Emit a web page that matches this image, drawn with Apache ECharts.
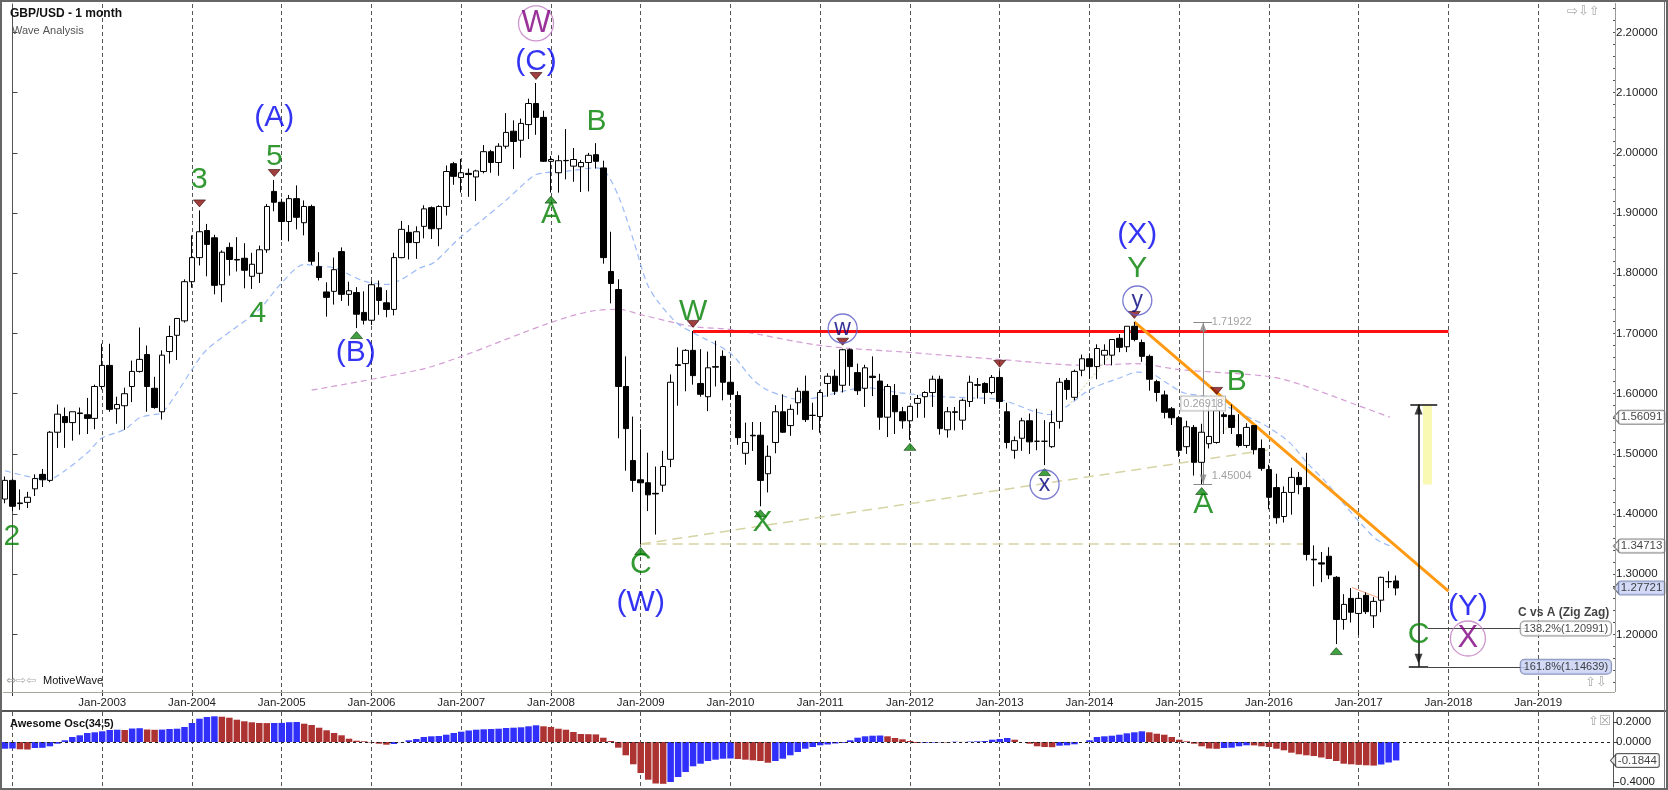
<!DOCTYPE html>
<html>
<head>
<meta charset="utf-8">
<script src="https://cdn.jsdelivr.net/npm/echarts@6.0.0/dist/echarts.min.js"></script>
<style>
html,body{margin:0;padding:0;background:#fff;}
#chart{width:1668px;height:790px;}
</style>
</head>
<body>
<div id="chart"></div>
<script>
// ---------------- DATA ----------------
// Monthly candles GBP/USD, Dec-2001 .. Jun-2017 : [open, high, low, close]
const ohlc = [
[1.4250,1.4625,1.4180,1.4560],
// 2002
[1.4560,1.4590,1.4050,1.4130],[1.4175,1.4410,1.4070,1.4185],[1.4195,1.4370,1.4100,1.4280],[1.4420,1.4660,1.4300,1.4590],
[1.4660,1.4750,1.4450,1.4570],[1.4560,1.5380,1.4530,1.5360],[1.5360,1.5820,1.5100,1.5660],[1.5620,1.5770,1.5100,1.5520],
[1.5520,1.5700,1.5220,1.5700],[1.5680,1.5770,1.5320,1.5670],[1.5650,1.5930,1.5330,1.5590],[1.5590,1.6150,1.5410,1.6120],
// 2003
[1.6120,1.6830,1.6070,1.6470],[1.6470,1.6830,1.5700,1.5740],[1.5750,1.5950,1.5500,1.5820],[1.5800,1.6100,1.5400,1.6000],
[1.6120,1.6550,1.5860,1.6370],[1.6370,1.7100,1.6350,1.6570],[1.6650,1.6800,1.5700,1.6120],[1.6090,1.6280,1.5750,1.5770],
[1.5700,1.6720,1.5570,1.6640],[1.6700,1.7130,1.6500,1.6950],[1.6970,1.7250,1.6560,1.7250],[1.7210,1.7900,1.7180,1.7860],
// 2004
[1.7860,1.8630,1.7760,1.8260],[1.8260,1.9045,1.8130,1.8690],[1.8710,1.8820,1.7950,1.8480],[1.8590,1.8640,1.7650,1.7800],
[1.7810,1.8380,1.7520,1.8350],[1.8430,1.8510,1.7960,1.8230],[1.8230,1.8600,1.8030,1.8220],[1.8250,1.8500,1.7750,1.8050],
[1.7950,1.8340,1.7740,1.8150],[1.8000,1.8460,1.7840,1.8390],[1.8390,1.9150,1.8340,1.9110],[1.9360,1.9550,1.9030,1.9180],
// 2005
[1.9180,1.9240,1.8550,1.8860],[1.8860,1.9300,1.8530,1.9240],[1.9240,1.9460,1.8730,1.8930],[1.8840,1.9210,1.8630,1.9110],
[1.9110,1.9140,1.8140,1.8200],[1.8110,1.8350,1.7880,1.7930],[1.7690,1.7850,1.7280,1.7600],[1.7700,1.8260,1.7480,1.8060],
[1.8360,1.8430,1.7540,1.7650],[1.7650,1.7860,1.7460,1.7710],[1.7680,1.7770,1.7090,1.7320],[1.7350,1.7700,1.7150,1.7220],
// 2006
[1.7220,1.7870,1.7140,1.7810],[1.7760,1.7880,1.7310,1.7550],[1.7510,1.7720,1.7270,1.7400],[1.7400,1.8340,1.7300,1.8260],
[1.8260,1.8870,1.8250,1.8730],[1.8680,1.8800,1.8230,1.8510],[1.8510,1.8780,1.8240,1.8690],[1.8780,1.9130,1.8580,1.9070],
[1.9090,1.9110,1.8570,1.8740],[1.8740,1.9130,1.8450,1.9110],[1.9110,1.9790,1.8960,1.9690],[1.9820,1.9850,1.9470,1.9610],
// 2007
[1.9590,1.9900,1.9340,1.9670],[1.9660,1.9740,1.9270,1.9640],[1.9600,1.9720,1.9200,1.9700],[1.9690,2.0130,1.9660,2.0020],
[2.0020,2.0050,1.9670,1.9840],[1.9840,2.0160,1.9620,2.0110],[2.0110,2.0660,2.0070,2.0340],[2.0360,2.0540,1.9730,2.0190],
[2.0210,2.0570,1.9920,2.0490],[2.0470,2.0900,2.0230,2.0820],[2.0820,2.1161,2.0300,2.0590],[2.0590,2.0700,1.9850,1.9860],
// 2008
[1.9860,1.9950,1.9340,1.9890],[1.9670,1.9960,1.9340,1.9870],[1.9870,2.0396,1.9560,1.9875],[1.9780,2.0080,1.9520,1.9890],
[1.9770,1.9880,1.9350,1.9840],[1.9840,2.0000,1.9360,1.9960],[1.9970,2.0162,1.9740,1.9860],[1.9750,1.9870,1.8160,1.8260],
[1.8030,1.8690,1.7500,1.7830],[1.7730,1.7900,1.5260,1.6120],[1.6120,1.6620,1.4720,1.5420],[1.4890,1.5620,1.4370,1.4560],
// 2009
[1.4570,1.5410,1.3503,1.4520],[1.4520,1.5020,1.4050,1.4320],[1.4345,1.4790,1.3660,1.4335],[1.4480,1.5050,1.4370,1.4790],
[1.4910,1.6320,1.4780,1.6190],[1.6480,1.6770,1.5800,1.6470],[1.6500,1.6740,1.6040,1.6720],[1.6720,1.7043,1.6150,1.6300],
[1.6170,1.6740,1.5950,1.5990],[1.5950,1.6700,1.5710,1.6430],[1.6440,1.6880,1.6120,1.6450],[1.6620,1.6720,1.5890,1.6190],
// 2010
[1.6190,1.6460,1.5900,1.5990],[1.5970,1.6040,1.5150,1.5270],[1.5010,1.5520,1.4820,1.5190],[1.5310,1.5530,1.5050,1.5300],
[1.5310,1.5530,1.4130,1.4560],[1.4670,1.5140,1.4360,1.4960],[1.5190,1.5810,1.5010,1.5700],[1.5700,1.5990,1.5350,1.5360],
[1.5470,1.5820,1.5300,1.5740],[1.5850,1.6100,1.5650,1.6040],[1.6040,1.6300,1.5530,1.5570],[1.5640,1.5850,1.5400,1.5640],
// 2011
[1.5620,1.6060,1.5350,1.6020],[1.6170,1.6340,1.5950,1.6290],[1.6290,1.6400,1.5980,1.6040],[1.6140,1.6747,1.6020,1.6730],
[1.6730,1.6750,1.6130,1.6450],[1.6350,1.6500,1.5980,1.6050],[1.6090,1.6480,1.5780,1.6430],[1.6290,1.6620,1.5960,1.6270],
[1.6210,1.6330,1.5400,1.5610],[1.5610,1.6160,1.5280,1.6120],[1.5970,1.6160,1.5330,1.5700],[1.5700,1.5780,1.5420,1.5550],
// 2012
[1.5550,1.5800,1.5233,1.5790],[1.5840,1.5980,1.5600,1.5920],[1.5950,1.6040,1.5600,1.6020],[1.6020,1.6300,1.5780,1.6240],
[1.6240,1.6300,1.5320,1.5420],[1.5400,1.5780,1.5270,1.5700],[1.5700,1.5780,1.5390,1.5690],[1.5560,1.5920,1.5400,1.5890],
[1.5870,1.6300,1.5780,1.6190],[1.6150,1.6260,1.5920,1.6140],[1.6170,1.6190,1.5830,1.6020],[1.6020,1.6310,1.5990,1.6270],
// 2013
[1.6270,1.6381,1.5750,1.5870],[1.5700,1.5850,1.5090,1.5190],[1.5060,1.5290,1.4920,1.5220],[1.5260,1.5600,1.5050,1.5550],
[1.5550,1.5670,1.5000,1.5200],[1.5210,1.5750,1.5060,1.5210],[1.5210,1.5560,1.4814,1.5210],[1.5120,1.5720,1.5100,1.5520],
[1.5540,1.6260,1.5420,1.6190],[1.6220,1.6260,1.5900,1.6070],[1.5940,1.6400,1.5890,1.6370],[1.6390,1.6650,1.6290,1.6580],
// 2014
[1.6580,1.6670,1.6250,1.6450],[1.6450,1.6820,1.6240,1.6750],[1.6640,1.6820,1.6480,1.6720],[1.6640,1.6900,1.6470,1.6900],
[1.6920,1.6990,1.6690,1.6770],[1.6780,1.7120,1.6690,1.7120],[1.7120,1.7192,1.6870,1.6900],[1.6850,1.6900,1.6530,1.6620],
[1.6620,1.6650,1.6050,1.6240],[1.6200,1.6230,1.5870,1.6020],[1.5980,1.6050,1.5590,1.5690],[1.5750,1.5780,1.5480,1.5600],
// 2015
[1.5600,1.5630,1.4950,1.5060],[1.5120,1.5550,1.5000,1.5450],[1.5440,1.5480,1.4640,1.4860],[1.4860,1.5500,1.4500,1.5360],
[1.5170,1.5820,1.5090,1.5290],[1.5190,1.5930,1.5170,1.5720],[1.5650,1.5690,1.5330,1.5620],[1.5640,1.5820,1.5330,1.5440],
[1.5320,1.5660,1.5110,1.5140],[1.5140,1.5510,1.5100,1.5440],[1.5470,1.5480,1.4990,1.5070],[1.5090,1.5240,1.4720,1.4760],
// 2016
[1.4740,1.4820,1.4080,1.4280],[1.4440,1.4670,1.3840,1.3940],[1.3960,1.4460,1.3860,1.4360],[1.4360,1.4770,1.3990,1.4610],
[1.4610,1.4700,1.4330,1.4490],[1.4440,1.5018,1.3229,1.3330],[1.3250,1.3480,1.2800,1.3240],[1.3190,1.3370,1.2870,1.3170],
[1.3300,1.3450,1.2920,1.2990],[1.2950,1.2970,1.1841,1.2250],[1.2250,1.2670,1.2080,1.2500],[1.2600,1.2770,1.2200,1.2370],
// 2017
[1.2350,1.2700,1.1990,1.2600],[1.2650,1.2700,1.2340,1.2380],[1.2310,1.2620,1.2110,1.2550],[1.2570,1.2960,1.2370,1.2950],
[1.2880,1.3050,1.2770,1.2875],[1.2890,1.2980,1.2650,1.27721]
];

// Awesome Oscillator (34,5), Dec-2001 .. Jun-2017
const aoValues = [
-0.067,-0.065,-0.073,-0.075,-0.060,-0.058,-0.043,-0.017,0.017,0.050,0.067,0.090,0.097,
0.107,0.120,0.123,0.120,0.135,0.138,0.125,0.122,0.124,0.130,0.133,0.150,
0.190,0.233,0.250,0.257,0.253,0.243,0.223,0.207,0.197,0.190,0.189,0.190,
0.191,0.198,0.200,0.183,0.170,0.143,0.117,0.090,0.067,0.033,0.013,0.007,
-0.005,-0.017,-0.027,-0.020,-0.002,0.017,0.030,0.050,0.057,0.060,0.073,0.090,
0.103,0.115,0.123,0.127,0.130,0.133,0.140,0.143,0.147,0.157,0.167,0.157,
0.150,0.133,0.123,0.100,0.080,0.078,0.076,0.043,0.010,-0.057,-0.133,-0.223,
-0.310,-0.377,-0.415,-0.418,-0.400,-0.350,-0.300,-0.243,-0.217,-0.190,-0.177,-0.167,
-0.165,-0.170,-0.177,-0.183,-0.190,-0.207,-0.190,-0.167,-0.133,-0.100,-0.067,-0.050,
-0.033,-0.025,-0.015,-0.008,0.017,0.043,0.057,0.063,0.065,0.057,0.040,0.027,
0.010,-0.010,-0.008,-0.006,-0.003,-0.005,0.003,0.001,0.004,0.007,0.010,0.023,
0.030,0.040,0.023,0.000,-0.017,-0.043,-0.050,-0.052,-0.037,-0.033,-0.023,0.000,
0.017,0.050,0.057,0.063,0.073,0.087,0.097,0.107,0.097,0.083,0.073,0.050,
0.023,0.007,-0.017,-0.043,-0.065,-0.068,-0.060,-0.057,-0.043,-0.033,-0.034,-0.043,
-0.050,-0.067,-0.083,-0.107,-0.123,-0.133,-0.140,-0.155,-0.170,-0.190,-0.217,-0.223,
-0.228,-0.233,-0.236,-0.225,-0.205,-0.1844
];

// moving averages: [month index (0 = Jan-2002), price]
const fastMA = [
[-1,1.472],[3,1.460],[5,1.4586],[7,1.472],[10,1.5018],[12,1.5267],[15,1.5405],[17,1.560],[19,1.5654],[20,1.5683],
[22,1.6015],[24,1.6402],[26,1.6734],[29.5,1.7067],[33,1.7399],[36,1.7842],[39,1.8146],[41,1.8118],[43,1.8091],[45,1.798],
[47,1.7869],[50,1.7814],[52,1.7897],[54.5,1.809],[56.3,1.8174],[59.8,1.859],[62.9,1.8894],[66.1,1.9226],[69.6,1.9613],
[71,1.9669],[74.1,1.9696],[78.1,1.9752],[79.4,1.9669],[81.2,1.9226],[83,1.8561],[84.8,1.7842],[86.1,1.7565],[88.8,1.7178],
[91,1.7012],[95.9,1.668],[99,1.6236],[100.8,1.607],[103.1,1.5959],[105.3,1.5904],[108,1.5945],[112,1.607],[114.2,1.6098],
[118.7,1.6015],[123.1,1.5959],[127.6,1.5932],[132,1.5904],[136.5,1.5709],[138.7,1.5654],[141,1.5792],[144.1,1.607],
[148.1,1.6264],[150.4,1.6357],[152.5,1.6319],[154.3,1.6181],[156.6,1.6015],[159.7,1.5945],[163.2,1.5738],[165.9,1.5571],
[167.7,1.546],[170.8,1.5184],[173.1,1.4852],[175.7,1.452],[177.9,1.4188],[180.2,1.3855],[182.4,1.3578],[184.2,1.34713]
];
const slowMA = [
[40,1.6058],[54.5,1.640],[60,1.6618],[72,1.7183],[77.9,1.7382],[81.2,1.740],[83.9,1.7316],[91,1.7116],[96.1,1.7066],
[108.1,1.680],[120,1.6684],[132,1.6568],[144,1.6468],[150,1.650],[156.1,1.640],[168,1.6286],[172.2,1.6153],[180,1.580],[184.2,1.56091]
];

// pivot markers [month index, price]
const pivotHighs = [[25,1.9045],[35,1.9550],[70,2.1161],[91,1.7043],[111,1.6747],[132,1.6381],[150,1.7192],[161,1.5930]];
const pivotLows  = [[46,1.7090],[72,1.9340],[84,1.3503],[100,1.4130],[120,1.5233],[138,1.4814],[159,1.4500],[177,1.1841]];

// wave labels: [text, month index, price, degree]
const waveLabels = [
['2',-0.1,1.3628,'minor'],['3',25,1.9558,'minor'],['4',32.8,1.7332,'minor'],['5',35,1.994,'minor'],
['(A)',35,2.0588,'inter'],['(B)',45.9,1.6684,'inter'],['(C)',70,2.1518,'inter'],
['A',72,1.8977,'minor'],['B',78.1,2.0522,'minor'],['W',91,1.7365,'minor'],['C',84,1.3163,'minor'],
['(W)',84,1.2532,'inter'],['X',100.3,1.386,'minor'],['(X)',150.4,1.8645,'inter'],['Y',150.4,1.808,'minor'],
['A',159.2,1.416,'minor'],['B',163.7,1.6203,'minor'],['C',188,1.200,'minor'],['(Y)',194.6,1.2465,'inter'],
['W',70,2.215,'primary'],['X',194.6,1.1934,'primary'],
['w',111,1.7083,'sub'],['x',138,1.4492,'sub'],['y',150.4,1.7548,'sub']
];

// drawn lines: [kind, k1, p1, k2, p2]
const drawnLines = [
['resistance',91,1.7043,192,1.7043],
['trend',150,1.7192,192,1.272],
['channel',84,1.3503,173.5,1.3503],
['channel',84,1.3503,168.2,1.5073],
['dotted',141.5,1.585,150,1.712],
['dotted',159.7,1.5156,163.7,1.557],
['salmon',179.1,1.278,183.5,1.257],
['measure',159.2,1.71922,159.2,1.45004],
['measure',157.9,1.71922,160.4,1.71922],
['measure',157.9,1.45004,160.4,1.45004],
['projection',188,1.582,188,1.14639],
['projection',186.9,1.582,190.5,1.582],
['projection',186.7,1.14639,189.3,1.14639],
['fib',189.2,1.20991,202.5,1.20991],
['fib',189.3,1.14639,202.5,1.14639]
];
const targetZone = [188.6,1.5804,189.8,1.4492];

// boxed/plain notes: [text, month index, price, kind]
const notes = [
['C vs A (Zig Zag)',207.4,1.2366,'heading'],
['138.2%(1.20991)',207.7,1.20991,'fibBox'],
['161.8%(1.14639)',207.7,1.14639,'fibBoxBlue'],
['0.26918',159.2,1.5837,'measureBox'],
['1.71922',160.3,1.71922,'measureText'],
['1.45004',160.3,1.4641,'measureText']
];
const priceTags = [[1.56091,'plain'],[1.34713,'plain'],[1.27721,'last']];
const aoTag = -0.1844;
const priceTicks = [1.2,1.3,1.4,1.5,1.6,1.7,1.8,1.9,2.0,2.1,2.2];
const aoTicks = [-0.4,0,0.2];
const MONTH_NAMES = ['Jan','Feb','Mar','Apr','May','Jun','Jul','Aug','Sep','Oct','Nov','Dec'];

// ---------------- CHART ----------------
const FONT = 'Liberation Sans, Arial, sans-serif';
const months = [];
for (let i = 0; i < 216; i++) {
  const k = i - 1;
  const y = 2002 + Math.floor(k / 12);
  const m = ((k % 12) + 12) % 12;
  months.push(MONTH_NAMES[m] + '-' + y);
}
const isJan = idx => months[idx] && months[idx].startsWith('Jan');
const showYear = idx => isJan(idx) && +months[idx].slice(4) >= 2003;

const minorTicks = [];
for (let v = 112; v <= 224; v += 2) minorTicks.push(v / 100);

const candleData = ohlc.map(r => [r[0], r[3], r[2], r[1]]);
const BLUE = '#3030fa', RED = '#ad3232';
const aoData = aoValues.map((v, i) => ({ value: v, itemStyle: { color: (i === 0 || v >= aoValues[i - 1]) ? BLUE : RED } }));

const lineStyles = {
  resistance: { color: '#ff1010', width: 3 },
  trend: { color: '#ff9a12', width: 3 },
  channel: { color: '#d7d4a4', width: 1.5, type: [10, 6] },
  dotted: { color: '#cdca96', width: 1, type: [2, 2] },
  salmon: { color: '#f3a283', width: 1 },
  measure: { color: '#8a8a8a', width: 1 },
  projection: { color: '#111', width: 1.5 },
  fib: { color: '#444', width: 1 }
};
const labelStyles = {
  minor: { color: '#008000', size: 30 },
  inter: { color: '#0000f0', size: 30 },
  primary: { color: '#800080', size: 31, circle: 35, ring: '#c27ac2' },
  sub: { color: '#000080', size: 23, circle: 29, ring: '#5a5ac8' }
};
const noteStyles = {
  heading: { color: '#111', fontSize: 12, fontWeight: 'bold' },
  fibBox: { color: '#111', fontSize: 11, backgroundColor: '#fff', borderColor: '#777', borderWidth: 1, borderRadius: 4, padding: [2, 3, 1, 3] },
  fibBoxBlue: { color: '#111', fontSize: 11, backgroundColor: '#c7d1f4', borderColor: '#6d78a8', borderWidth: 1, borderRadius: 4, padding: [2, 3, 1, 3] },
  measureBox: { color: '#888', fontSize: 11, backgroundColor: '#fff', borderColor: '#aaa', borderWidth: 1, padding: [2, 2, 1, 2] },
  measureText: { color: '#8a8a8a', fontSize: 11, align: 'left' }
};

const textItems = waveLabels.map(([t, k, p, deg]) => {
  const s = labelStyles[deg];
  return {
    value: [k, p],
    symbol: 'circle',
    symbolSize: s.circle || 1,
    itemStyle: s.circle ? { color: 'rgba(255,255,255,0)', borderColor: s.ring, borderWidth: 1.3 } : { color: 'rgba(0,0,0,0)' },
    label: { show: true, position: 'inside', formatter: t, color: s.color, fontSize: s.size, fontFamily: FONT }
  };
});
const noteItems = notes.map(([t, k, p, kind]) => {
  const s = noteStyles[kind];
  const lab = Object.assign({ show: true, formatter: t, fontFamily: FONT }, s);
  if (s.align === 'left') { lab.position = 'right'; lab.distance = 0; delete lab.align; }
  else lab.position = 'inside';
  return { value: [k, p], symbolSize: 1, itemStyle: { color: 'rgba(0,0,0,0)' }, label: lab };
});
const tagItems = priceTags.map(([v, kind]) => ({
  value: [214.4, v],
  symbol: 'triangle', symbolRotate: 90, symbolSize: [11, 5],
  itemStyle: { color: kind === 'last' ? '#c7d1f4' : '#fff', borderColor: '#555', borderWidth: 1 },
  label: {
    show: true, position: 'right', distance: 0, formatter: v.toFixed(5), fontFamily: FONT, fontSize: 11.5, color: '#111',
    backgroundColor: kind === 'last' ? '#c7d1f4' : '#fff', borderColor: kind === 'last' ? '#6d78a8' : '#666', borderWidth: 1,
    borderRadius: 2, padding: [1, 2, 0, 2]
  }
}));

const option = {
  animation: false,
  backgroundColor: '#fff',
  grid: [
    { left: 5, right: 55, top: 4, bottom: 98, show: false },
    { left: 5, right: 55, top: 712, bottom: 3, show: false }
  ],
  xAxis: [
    { type: 'category', gridIndex: 0, data: months, boundaryGap: false,
      axisLine: { show: false },
      axisTick: { show: true, interval: (i) => isJan(i), length: 4, lineStyle: { color: '#333' } },
      axisLabel: { interval: (i) => showYear(i), margin: 5, fontFamily: FONT, fontSize: 11.5, color: '#222' },
      splitLine: { show: true, interval: (i) => isJan(i), lineStyle: { color: '#555', type: [4, 3], width: 1 } } },
    { type: 'value', gridIndex: 0, min: -1, max: 214, show: false },
    { type: 'category', gridIndex: 1, data: months, boundaryGap: false,
      axisLine: { show: false }, axisTick: { show: false }, axisLabel: { show: false },
      splitLine: { show: true, interval: (i) => isJan(i), lineStyle: { color: '#555', type: [4, 3], width: 1 } } }
  ],
  yAxis: [
    { type: 'value', gridIndex: 0, position: 'right', min: 1.1045, max: 2.2473, scale: true,
      axisLine: { show: true, lineStyle: { color: '#555' } },
      axisTick: { show: true, customValues: priceTicks, length: 5, lineStyle: { color: '#444' } },
      axisLabel: { customValues: priceTicks, formatter: v => v.toFixed(5), margin: 3, fontFamily: FONT, fontSize: 11.5, color: '#222' },
      splitLine: { show: false } },
    { type: 'value', gridIndex: 0, position: 'right', min: 1.1045, max: 2.2473, scale: true,
      axisLine: { show: false },
      axisTick: { show: true, customValues: minorTicks, length: 3, lineStyle: { color: '#555' } },
      axisLabel: { show: false }, splitLine: { show: false } },
    { type: 'value', gridIndex: 1, position: 'right', min: -0.45, max: 0.30, scale: true,
      axisLine: { show: true, lineStyle: { color: '#555' } },
      axisTick: { show: true, customValues: aoTicks, length: 5, lineStyle: { color: '#444' } },
      axisLabel: { customValues: aoTicks, formatter: v => v.toFixed(4), margin: 3, fontFamily: FONT, fontSize: 11.5, color: '#222' },
      splitLine: { show: false } }
  ],
  series: [
    { type: 'line', xAxisIndex: 1, yAxisIndex: 0, data: slowMA, smooth: 0.3, symbol: 'none', silent: true, z: 2,
      lineStyle: { color: '#d49cd4', width: 1.2, type: [6, 4] } },
    { type: 'line', xAxisIndex: 1, yAxisIndex: 0, data: fastMA, smooth: 0.3, symbol: 'none', silent: true, z: 2,
      lineStyle: { color: '#9cbaf6', width: 1.2, type: [6, 4] },
      markArea: { silent: true, itemStyle: { color: '#f9f9b3' },
        data: [[{ coord: [targetZone[0], targetZone[1]] }, { coord: [targetZone[2], targetZone[3]] }]] } },
    { type: 'lines', coordinateSystem: 'cartesian2d', xAxisIndex: 1, yAxisIndex: 0, silent: true, z: 3, polyline: false,
      data: drawnLines.map(([kind, k1, p1, k2, p2]) => ({ coords: [[k1, p1], [k2, p2]], lineStyle: Object.assign({ opacity: 1, curveness: 0 }, lineStyles[kind]) })) },
    { type: 'candlestick', xAxisIndex: 0, yAxisIndex: 0, data: candleData, barWidth: 6, clip: false, silent: true, z: 4,
      itemStyle: { color: '#ffffff', color0: '#000000', borderColor: '#000000', borderColor0: '#000000', borderWidth: 1 } },
    { type: 'scatter', xAxisIndex: 1, yAxisIndex: 0, data: pivotHighs, symbol: 'triangle', symbolRotate: 180,
      symbolSize: [12, 7], symbolOffset: [0, -7], silent: true, z: 6, clip: false,
      itemStyle: { color: '#8a0e0e', borderColor: '#2a0000', borderWidth: 0.7 } },
    { type: 'scatter', xAxisIndex: 1, yAxisIndex: 0, data: pivotLows, symbol: 'triangle',
      symbolSize: [12, 7], symbolOffset: [0, 7], silent: true, z: 6, clip: false,
      itemStyle: { color: '#128a12', borderColor: '#023002', borderWidth: 0.7 } },
    { type: 'scatter', xAxisIndex: 1, yAxisIndex: 0, silent: true, z: 6, clip: false,
      data: [
        { value: [188, 1.582], symbol: 'triangle', symbolSize: [8, 10], symbolOffset: [0, 5], itemStyle: { color: '#111' } },
        { value: [188, 1.14639], symbol: 'triangle', symbolRotate: 180, symbolSize: [8, 10], symbolOffset: [0, -8], itemStyle: { color: '#111' } },
        { value: [159.2, 1.71922], symbol: 'triangle', symbolSize: [7, 9], symbolOffset: [0, 5], itemStyle: { color: '#888' } },
        { value: [159.2, 1.45004], symbol: 'triangle', symbolRotate: 180, symbolSize: [7, 9], symbolOffset: [0, -5], itemStyle: { color: '#888' } }
      ] },
    { type: 'scatter', xAxisIndex: 1, yAxisIndex: 0, data: textItems, silent: true, z: 7, clip: false },
    { type: 'scatter', xAxisIndex: 1, yAxisIndex: 0, data: noteItems, silent: true, z: 7, clip: false },
    { type: 'scatter', xAxisIndex: 1, yAxisIndex: 0, data: tagItems, silent: true, z: 8, clip: false },
    { type: 'bar', xAxisIndex: 2, yAxisIndex: 2, data: aoData, barWidth: 6.5, clip: false, silent: true, z: 3,
      markLine: { silent: true, symbol: 'none', label: { show: false },
        lineStyle: { color: '#222', type: [3, 3], width: 1 }, data: [{ yAxis: 0 }] } },
    { type: 'scatter', xAxisIndex: 2, yAxisIndex: 2, silent: true, z: 8, clip: false,
      data: [{ value: [215.3, aoTag], symbol: 'triangle', symbolRotate: 90, symbolSize: [11, 5],
        itemStyle: { color: '#fff', borderColor: '#333', borderWidth: 1 },
        label: { show: true, position: 'right', distance: 0, formatter: aoTag.toFixed(4), fontFamily: FONT, fontSize: 11.5, color: '#111',
          backgroundColor: '#fff', borderColor: '#333', borderWidth: 1, borderRadius: 2, padding: [1, 2, 0, 2] } }] }
  ],
  graphic: [
    { type: 'line', silent: true, z: 50, shape: { x1: 3, y1: 692.5, x2: 1615, y2: 692.5 }, style: { stroke: '#a8a89a', lineWidth: 1 } },
    { type: 'line', silent: true, z: 50, shape: { x1: 1615.5, y1: 3, x2: 1615.5, y2: 692 }, style: { stroke: '#9a9a9a', lineWidth: 1 } },
    { type: 'line', silent: true, z: 50, shape: { x1: 0, y1: 711, x2: 1668, y2: 711 }, style: { stroke: '#555', lineWidth: 2 } },
    { type: 'line', silent: true, z: 50, shape: { x1: 1664.5, y1: 0, x2: 1664.5, y2: 790 }, style: { stroke: '#777', lineWidth: 1 } },
    { type: 'rect', silent: true, z: 50, shape: { x: 1, y: 1, width: 1666, height: 788 }, style: { fill: 'none', stroke: '#666', lineWidth: 2 } },
    { type: 'text', silent: true, z: 50, x: 10, y: 14, style: { text: 'GBP/USD - 1 month', font: 'bold 12px Liberation Sans', fill: '#111', verticalAlign: 'middle' } },
    { type: 'text', silent: true, z: 50, x: 12, y: 31, style: { text: 'Wave Analysis', font: '11px Liberation Sans', fill: '#555', verticalAlign: 'middle' } },
    { type: 'text', silent: true, z: 50, x: 6, y: 681, style: { text: '\u21D4\u21E8\u21E6', font: '12px DejaVu Sans', fill: '#aaa', verticalAlign: 'middle' } },
    { type: 'text', silent: true, z: 50, x: 43, y: 681, style: { text: 'MotiveWave', font: '11px Liberation Sans', fill: '#111', verticalAlign: 'middle' } },
    { type: 'text', silent: true, z: 50, x: 1567, y: 12, style: { text: '\u21E8\u21E9\u21E7', font: '13px DejaVu Sans', fill: '#aaa', verticalAlign: 'middle' } },
    { type: 'text', silent: true, z: 50, x: 1585, y: 683, style: { text: '\u21E7\u21E9', font: '13px DejaVu Sans', fill: '#aaa', verticalAlign: 'middle' } },
    { type: 'text', silent: true, z: 50, x: 1588, y: 722, style: { text: '\u21E7\u2612', font: '13px DejaVu Sans', fill: '#aaa', verticalAlign: 'middle' } },
    { type: 'text', silent: true, z: 50, x: 10, y: 724, style: { text: 'Awesome Osc(34,5)', font: 'bold 11px Liberation Sans', fill: '#111', verticalAlign: 'middle' } }
  ]
};

const chart = echarts.init(document.getElementById('chart'));
chart.setOption(option);
</script>
</body>
</html>
